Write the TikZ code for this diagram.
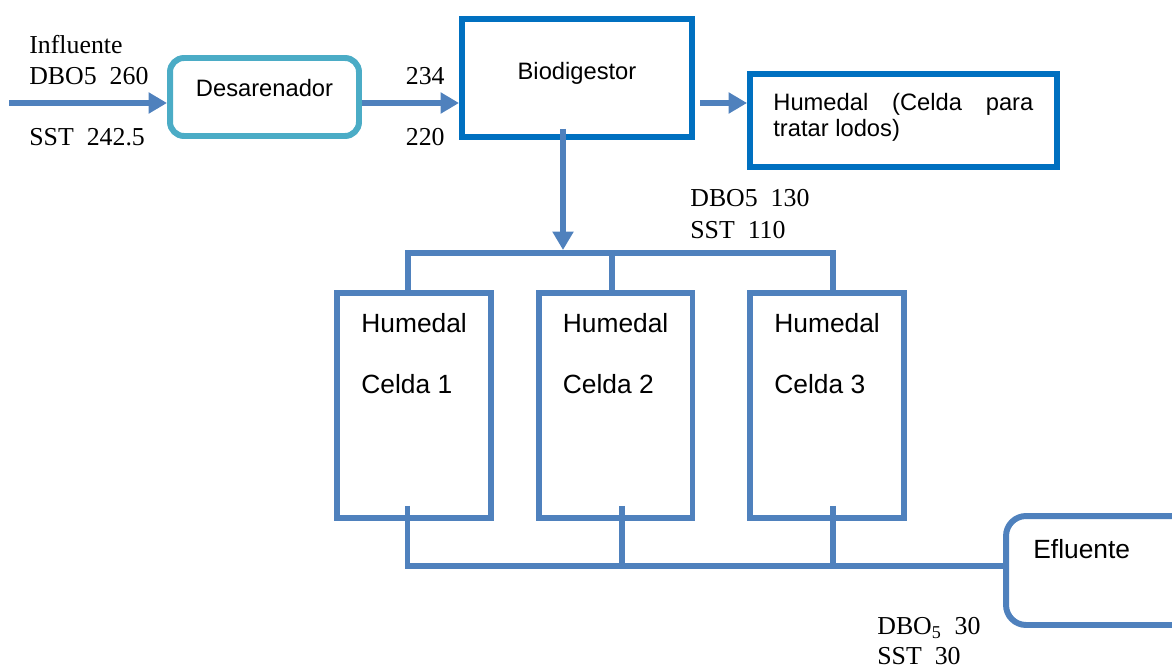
\documentclass[tikz,border=0pt]{standalone}
\usepackage{fontspec}
\setmainfont{Liberation Serif}
\setsansfont{Liberation Sans}
\usetikzlibrary{arrows.meta,calc}

\definecolor{sandcol}{HTML}{4BACC6}
\definecolor{digcol}{HTML}{0070C0}
\definecolor{flowcol}{HTML}{4F81BD}

\begin{document}
\begin{tikzpicture}[x=0.02cm,y=-0.02cm,label distance=0pt,
  flow/.style={flowcol,line width=3.4pt,-{Triangle[length=10.5pt,width=11.5pt]}},
  pipe/.style={flowcol,line width=3.4pt,line join=miter},
  val/.style={inner sep=0pt,font=\fontsize{14.7}{17}\selectfont},
  boxtxt/.style={inner sep=0pt,font=\sffamily\fontsize{13.5}{15}\selectfont},
  celltxt/.style={inner sep=0pt,anchor=base west,font=\sffamily\fontsize{15}{18}\selectfont},
  cell/.style={draw=flowcol,line width=3.4pt,minimum width=3.08cm,minimum height=4.5cm,
    label={[celltxt,xshift=0.54cm,yshift=-0.84cm]north west:Humedal},
    label={[celltxt,xshift=0.54cm,yshift=-2.06cm]north west:Celda #1}}]
  \useasboundingbox (0,0) rectangle (1172,669);
% treatment units
  \node[draw=sandcol,line width=3.4pt,rounded corners=0.28cm,minimum width=3.78cm,minimum height=1.56cm,
    label={[boxtxt,yshift=0.18cm]center:Desarenador}] (desar) at (264.5,97) {};
  \node[draw=digcol,line width=3.4pt,minimum width=4.6cm,minimum height=2.36cm,
    label={[boxtxt,yshift=0.1cm]center:Biodigestor}] (biodig) at (577,78) {};
  \node[draw=digcol,line width=3.4pt,minimum width=6.14cm,minimum height=1.86cm,
    label={[boxtxt,anchor=base west,text width=5.2cm,xshift=0.52cm,yshift=-0.79cm]north west:Humedal\hfill(Celda\hfill para},
    label={[boxtxt,anchor=base west,xshift=0.52cm,yshift=-1.31cm]north west:tratar lodos)}] (humlodos) at (903.5,120.5) {};
  \node[cell=1] (cel1) at (414,405.5) {};
  \node[cell=2] (cel2) at (615.5,405.5) {};
  \node[cell=3] (cel3) at (827,405.5) {};
  \node[draw=flowcol,line width=3.4pt,rounded corners=0.4cm,minimum width=4cm,minimum height=2.18cm,
    label={[celltxt,xshift=0.6cm,yshift=-0.91cm]north west:Efluente}] (eflu) at (1106,570.5) {};
% inflow
  \coordinate (inlet) at (9,103);
  \draw[flow] (inlet) -- (inlet -| desar.west);
  \draw[flow] (desar.east |- inlet) -- (biodig.west |- inlet);
  \coordinate (sludge) at (700,103);
  \draw[flow] (sludge) -- (sludge -| humlodos.west);
% feed to the cells
  \coordinate (feed) at (563,250);
  \draw[flow] ($(biodig.south -| feed)+(0,-11)$) -- (feed);
  \coordinate (t1) at (408,253);
  \coordinate (t2) at (612,253);
  \coordinate (t3) at (833,253);
  \draw[pipe] (t1 |- cel1.north) -- (t1) -- (t3) -- (t3 |- cel3.north);
  \draw[pipe] (t2) -- (t2 |- cel2.north);
% outflow
  \coordinate (b1) at (407.5,566);
  \coordinate (b2) at (622,566);
  \coordinate (b3) at (833,566);
  \draw[pipe] ($(b1 |- cel1.south)+(0,-15)$) -- (b1) -- (b1 -| eflu.west);
  \draw[pipe] ($(b2 |- cel2.south)+(0,-15)$) -- (b2);
  \draw[pipe] ($(b3 |- cel3.south)+(0,-15)$) -- (b3);
% values
  \node[val,anchor=base west] (inf) at (29,54) {Influente};
  \node[val,anchor=base west] (dboin) at (29,85) {DBO5\ \ 260};
  \node[val,anchor=base west] (sstin) at (29,145) {SST\ \ 242.5};
  \node[val,anchor=base east] (dbosand) at (445,85) {234};
  \node[val,anchor=base east] (sstsand) at (445,145) {220};
  \node[val,anchor=base west] (dbodig) at (690,206.5) {DBO5\ \ 130};
  \node[val,anchor=base west] (sstdig) at (690,238.5) {SST\ \ 110};
  \node[val,anchor=base west] (dboout) at (877,634.5) {DBO\textsubscript{5}\ \ 30};
  \node[val,anchor=base west] (sstout) at (877,664.5) {SST\ \ 30};
\end{tikzpicture}
\end{document}
